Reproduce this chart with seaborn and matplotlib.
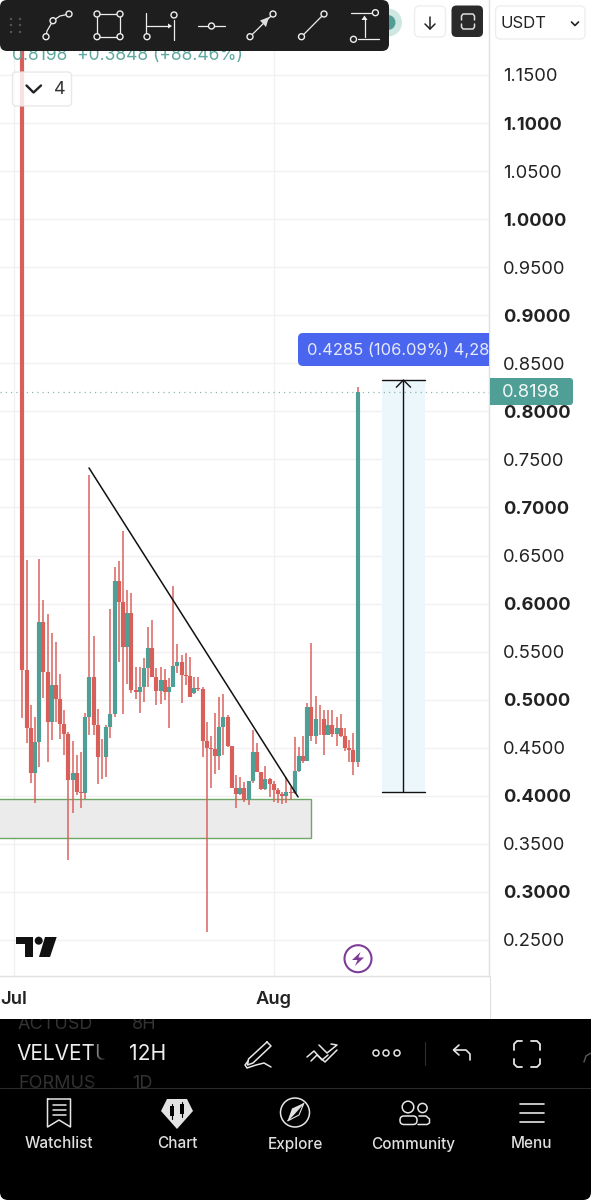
import matplotlib
matplotlib.use("Agg")
import matplotlib.pyplot as plt
import numpy as np
import pandas as pd
import seaborn as sns
from matplotlib.patches import Circle, FancyBboxPatch, Polygon, Rectangle

# candle values, 12H bars, first one is bar 2 (Jul 2nd)
first_bar = 2
opens = [1.2000, 0.5309, 0.4709, 0.4234, 0.4563, 0.5805, 0.5292, 0.4771, 0.5153, 0.5007, 0.4747,
         0.4640, 0.4165, 0.4234, 0.4036, 0.4026, 0.4823, 0.5233, 0.4737, 0.4407, 0.4400, 0.4712,
         0.4851, 0.6235, 0.6020, 0.5545, 0.5899, 0.5101, 0.5077, 0.5136, 0.5333, 0.5534, 0.5240,
         0.5094, 0.5205, 0.5084, 0.5136, 0.5351, 0.5392, 0.5257, 0.5250, 0.5073, 0.5125, 0.5108,
         0.4573, 0.4494, 0.4487, 0.4414, 0.4719, 0.4816, 0.4518, 0.4077, 0.4019, 0.4077, 0.3956,
         0.4157, 0.4452, 0.4251, 0.4067, 0.4171, 0.4123, 0.4060, 0.4019, 0.4000, 0.4036, 0.4026,
         0.4258, 0.4414, 0.4365, 0.4920, 0.4626, 0.4795, 0.4802, 0.4632, 0.4737, 0.4643, 0.4702,
         0.4622, 0.4494, 0.4476, 0.4355]
closes = [0.5309, 0.4709, 0.4234, 0.4563, 0.5805, 0.5292, 0.4771, 0.5153, 0.5007, 0.4747, 0.4640,
          0.4165, 0.4234, 0.4036, 0.4026, 0.4823, 0.5233, 0.4737, 0.4407, 0.4400, 0.4712, 0.4851,
          0.6235, 0.6020, 0.5545, 0.5899, 0.5101, 0.5077, 0.5136, 0.5333, 0.5534, 0.5240, 0.5094,
          0.5205, 0.5084, 0.5136, 0.5351, 0.5392, 0.5257, 0.5250, 0.5031, 0.5125, 0.5111, 0.4573,
          0.4494, 0.4487, 0.4414, 0.4719, 0.4816, 0.4518, 0.4077, 0.4019, 0.4077, 0.3956, 0.4157,
          0.4452, 0.4251, 0.4067, 0.4171, 0.4123, 0.4060, 0.4019, 0.4000, 0.4036, 0.4026, 0.4258,
          0.4414, 0.4365, 0.4920, 0.4626, 0.4795, 0.4802, 0.4632, 0.4737, 0.4643, 0.4702, 0.4622,
          0.4494, 0.4476, 0.4355, 0.8198]
highs = [1.2100, 0.6454, 0.4945, 0.4823, 0.6461, 0.6037, 0.5888, 0.5691, 0.5604, 0.5264, 0.4893,
         0.4660, 0.4574, 0.4425, 0.4453, 0.4858, 0.7338, 0.5663, 0.4900, 0.4588, 0.4737, 0.5944,
         0.6384, 0.6443, 0.6759, 0.6141, 0.6107, 0.5344, 0.5344, 0.5430, 0.5760, 0.5829, 0.5326,
         0.5337, 0.5316, 0.5222, 0.6183, 0.5576, 0.5465, 0.5483, 0.5447, 0.5232, 0.5232, 0.5135,
         0.4771, 0.4626, 0.4865, 0.5024, 0.5059, 0.4840, 0.4518, 0.4216, 0.4192, 0.4147, 0.4157,
         0.4684, 0.4553, 0.4251, 0.4313, 0.4188, 0.4157, 0.4077, 0.4040, 0.4199, 0.4095, 0.4615,
         0.4504, 0.4626, 0.4969, 0.5586, 0.5042, 0.4945, 0.4893, 0.4893, 0.4893, 0.4823, 0.4847,
         0.4702, 0.4580, 0.4657, 0.8250]
lows = [0.4806, 0.4546, 0.4130, 0.3922, 0.4303, 0.5014, 0.4355, 0.4581, 0.4771, 0.4588, 0.4425,
        0.3332, 0.3818, 0.4009, 0.3870, 0.3963, 0.4633, 0.4633, 0.4120, 0.4175, 0.4192, 0.4605,
        0.4823, 0.5389, 0.4851, 0.5163, 0.5066, 0.5007, 0.4865, 0.4973, 0.5136, 0.5240, 0.4945,
        0.4955, 0.5000, 0.4709, 0.5136, 0.5274, 0.4962, 0.5153, 0.5024, 0.5060, 0.5094, 0.4407,
        0.2583, 0.4077, 0.4227, 0.4268, 0.4424, 0.4510, 0.4077, 0.3876, 0.4010, 0.3939, 0.3904,
        0.4129, 0.4251, 0.4060, 0.4060, 0.3990, 0.3939, 0.3928, 0.3911, 0.3921, 0.3956, 0.4020,
        0.4250, 0.4338, 0.4360, 0.4573, 0.4539, 0.4632, 0.4424, 0.4632, 0.4615, 0.4518, 0.4615,
        0.4466, 0.4355, 0.4216, 0.4296]

price_ticks = [1.15, 1.10, 1.05, 1.00, 0.95, 0.90, 0.85, 0.80, 0.75, 0.70, 0.65, 0.60, 0.55, 0.50,
               0.45, 0.40, 0.35, 0.30, 0.25]
date_ticks = [0, 62]
date_labels = ["Jul", "Aug"]
last_price = 0.8198
trend_bars = [17.9, 67.8]
trend_prices = [0.7411, 0.3988]
zone_bars = [-6.0, 71.0]
zone_prices = [0.3561, 0.3967]
measure_bars = [87.8, 98.1]
measure_prices = [0.4039, 0.8326]

RED = "#d9605a"
GREEN = "#509f97"
GRID = "#f1f1f1"
BORDER = "#e0e0e0"

sns.set_theme(style="white")
plt.rcParams["font.family"] = ["Inter", "DejaVu Sans"]

fig = plt.figure(figsize=(5.91, 12), dpi=100, facecolor="white")
ax = fig.add_axes([0, 1 - 976 / 1200, 489 / 591, 976 / 1200], zorder=1)
ax.set_xlim(-3.34, 113.37)
ax.set_ylim(1.228 - 0.0010405 * 976, 1.228)

# candles as two long tables so seaborn draws them
bars = np.arange(len(opens)) + first_bar
cnd = pd.DataFrame({"bar": bars, "o": opens, "c": closes, "h": highs, "l": lows})
cnd["side"] = np.where(cnd["c"] >= cnd["o"], "up", "down")
wicks = cnd.melt(id_vars=["bar", "side"], value_vars=["l", "h"], value_name="price")
bodies = cnd.melt(id_vars=["bar", "side"], value_vars=["o", "c"], value_name="price")
pal = {"up": GREEN, "down": RED}

for p in price_ticks:
    ax.axhline(p, color=GRID, lw=1, zorder=0)
for d in date_ticks:
    ax.axvline(d, color=GRID, lw=1, zorder=0)

ax.add_patch(Rectangle((zone_bars[0], zone_prices[0]), zone_bars[1] - zone_bars[0],
                       zone_prices[1] - zone_prices[0], fc="#ebebeb", ec="#6fa866", lw=1, zorder=1))
ax.add_patch(Rectangle((measure_bars[0], measure_prices[0]), measure_bars[1] - measure_bars[0],
                       measure_prices[1] - measure_prices[0], fc="#ebf7fa", ec="none", zorder=1))

# every wick is red in this chart, also on the green candles
sns.lineplot(data=wicks, x="bar", y="price", color=RED, units="bar", estimator=None,
             sort=False, legend=False, linewidth=1.2, alpha=0.9, solid_capstyle="butt", zorder=2, ax=ax)
sns.lineplot(data=bodies, x="bar", y="price", hue="side", palette=pal, units="bar", estimator=None,
             sort=False, legend=False, linewidth=3.0, solid_capstyle="butt", zorder=3, ax=ax)

trend = pd.DataFrame({"bar": trend_bars, "price": trend_prices})
sns.lineplot(data=trend, x="bar", y="price", color="#111111", linewidth=1.1, zorder=4, ax=ax)

ax.axhline(last_price, color="#8fb5b0", lw=0.9, ls=(0, (1, 3.2)), zorder=1.5)
mid = sum(measure_bars) / 2
ax.plot(measure_bars, [measure_prices[0]] * 2, color="#111111", lw=1, zorder=4)
ax.plot(measure_bars, [measure_prices[1]] * 2, color="#111111", lw=1, zorder=4)
ax.plot([mid, mid], measure_prices, color="#111111", lw=1, zorder=4)
ax.plot([mid - 1.7, mid, mid + 1.7], [measure_prices[1] - 0.0075, measure_prices[1], measure_prices[1] - 0.0075],
        color="#111111", lw=1, zorder=4)

ax.set_xlabel("")
ax.set_ylabel("")
ax.yaxis.tick_right()
ax.set_yticks(price_ticks)
ax.set_yticklabels([f"{p:.4f}" for p in price_ticks])
ax.set_xticks(date_ticks)
ax.set_xticklabels(date_labels, fontsize=13.2, color="#222222", fontweight="semibold")
ax.tick_params(axis="y", length=0, pad=10, labelsize=13.2, labelcolor="#222222")
ax.tick_params(axis="x", length=0, pad=10.5)
for lab, p in zip(ax.get_yticklabels(), price_ticks):
    if round(p * 100) % 10 == 0:
        lab.set_fontweight("bold")
for side in ["top", "left"]:
    ax.spines[side].set_visible(False)
for side in ["right", "bottom"]:
    ax.spines[side].set_color(BORDER)
    ax.spines[side].set_linewidth(1)

# phone UI on top, in pixel coordinates
ui = fig.add_axes([0, 0, 1, 1], zorder=2)
ui.set_xlim(0, 591)
ui.set_ylim(1200, 0)
ui.axis("off")
ui.patch.set_alpha(0)


def box(x0, y0, x1, y1, r, fc, ec="none", lw=1, alpha=None, z=5):
    p = FancyBboxPatch((x0 + r, y0 + r), x1 - x0 - 2 * r, y1 - y0 - 2 * r,
                       boxstyle=f"round,pad={r},rounding_size={r}", fc=fc, ec=ec, lw=lw, alpha=alpha, zorder=z)
    ui.add_patch(p)
    return p


def line(xs, ys, c="#eeeeee", lw=1.0, z=7):
    ui.plot(xs, ys, color=c, lw=lw, zorder=z, solid_capstyle="round", solid_joinstyle="round")


def dot(x, y, r=3.0, ec="#eeeeee", fc="#1e1e1e", lw=1.0, z=8):
    ui.add_patch(Circle((x, y), r, fc=fc, ec=ec, lw=lw, zorder=z))


def clip_rect(x0, y0, x1, y1):
    return Rectangle((x0, y0), x1 - x0, y1 - y0, transform=ui.transData)


def txt(x, y, s, size, c="#222222", ha="left", weight="normal", z=7, clip=None):
    t = ui.text(x, y, s, fontsize=size, color=c, ha=ha, va="center", fontweight=weight, zorder=z)
    if clip:
        t.set_clip_on(True)
        t.set_clip_path(clip_rect(*clip))
    return t


def fade(x0, x1, y0, y1, z=7.5):
    # text runs out into the black panel
    for i, x in enumerate(np.arange(x0, x1, 1.5)):
        ui.add_patch(Rectangle((x, y0), 1.5, y1 - y0, fc="black", ec="none", alpha=min(1, (i + 1) * 1.5 / (x1 - x0)), zorder=z))


# last price tag and x panel border
tag = box(484, 378, 573, 405, 3, GREEN, z=5)
tag.set_clip_path(clip_rect(490, 370, 591, 410))
txt(502, 392.5, "0.8198", 13.2, c="#f2f7f6")
line([489.5, 489.5], [976, 1019], c=BORDER, lw=0.8, z=3)

# measure label
pill = box(298, 333, 520, 366, 5, "#4a66ee", z=5)
pill.set_clip_path(clip_rect(290, 325, 489, 372))
txt(307, 350, "0.4285 (106.09%) 4,285", 11.9, c="#e6e9fb", z=6, clip=(298, 333, 489, 366))

# legend header
txt(11.5, 55, "0.8198  +0.3848 (+88.46%)", 12.55, c="#5fa89f", z=4)
box(12.5, 72, 71.5, 106, 4, "white", ec="#e4e4e4", lw=1, alpha=0.82, z=4)
line([26.5, 33.5, 41], [85.5, 92.5, 85.5], c="#222222", lw=1.7)
txt(54, 89.5, "4", 13, c="#333333")

# logo
ui.add_patch(Polygon([(16, 937), (32.7, 937), (32.7, 957), (25, 957), (25, 944), (16, 944)], fc="#111111", ec="none", zorder=5))
ui.add_patch(Circle((38.7, 940.7), 4, fc="#111111", ec="none", zorder=5))
ui.add_patch(Polygon([(45, 937), (56.7, 937), (50, 957), (39, 957)], fc="#111111", ec="none", zorder=5))

# lightning
ui.add_patch(Circle((358, 958.7), 13.5, fc="white", ec="#7d3c98", lw=1.5, zorder=5))
ui.add_patch(Polygon([(360.5, 952), (352, 960), (357.5, 960), (355, 966), (364, 957.5), (358.5, 957.5)], fc="#7d3c98", ec="none", zorder=6))

# top right buttons
ui.add_patch(Circle((388, 22.5), 14, fc="#cfe7e3", ec="none", zorder=4))
ui.add_patch(Circle((388, 22.5), 7.5, fc=GREEN, ec="none", zorder=4.5))
box(414.5, 6, 445.5, 37, 5, "white", ec="#eeeeee")
line([430, 430], [16.5, 29], c="#222222", lw=1.1)
line([425, 430, 435], [24, 29, 24], c="#222222", lw=1.1)
box(451.5, 5.5, 483, 37, 5, "#2a2a2a")
ui.plot([461.5, 461.5, 463, 473, 474.5, 474.5], [20, 16, 14, 14, 16, 20], color="#dddddd", lw=1.1, zorder=7)
ui.plot([461.5, 461.5, 463, 473, 474.5, 474.5], [24, 27, 29, 29, 27, 24], color="#dddddd", lw=1.1, zorder=7)
box(495.5, 6, 585, 39, 5, "white", ec="#eeeeee")
txt(500.5, 23, "USDT", 12)
line([571.5, 575, 578.5], [22, 25.5, 22], c="#222222", lw=1.2)

# drawing toolbar
box(0, 0, 389, 51, 7, "#1e1e1e", z=6)
for gx in [11, 20]:
    for gy in [19, 25, 32]:
        ui.add_patch(Circle((gx, gy), 1.2, fc="#555555", ec="none", zorder=7))
ui.plot([46, 47, 53, 60, 69], [36.7, 31, 20.7, 16, 14], color="#eeeeee", lw=0.9, zorder=7)
for x, y in [(46, 36.7), (53, 20.7), (69, 14)]:
    dot(x, y)
line([97, 120, 120, 97, 97], [14, 14, 36.7, 36.7, 14], lw=0.9)
for x, y in [(97, 14), (120, 14), (97, 36.7), (120, 36.7)]:
    dot(x, y)
line([146, 146], [13, 33], lw=0.9)
line([174, 174], [20, 40], lw=0.9)
line([147, 170], [26, 26], lw=0.9)
ui.add_patch(Polygon([(168, 23.5), (172, 26), (168, 28.5)], fc="#eeeeee", ec="none", zorder=7))
dot(147, 36.7)
dot(174, 15)
line([198, 225], [26, 26], lw=0.9)
dot(211.5, 26)
line([250, 273], [36.7, 14], lw=0.9)
ui.add_patch(Polygon([(269, 17), (260, 20.5), (266, 27)], fc="#dddddd", ec="none", zorder=7))
dot(250, 36.7)
dot(273, 14)
line([301.5, 324], [36.7, 14], lw=0.9)
dot(301.5, 36.7)
dot(324, 14)
line([350.5, 371], [12.7, 12.7], lw=0.9)
line([358, 379], [39.3, 39.3], lw=0.9)
line([364.5, 364.5], [37, 18], lw=0.9)
ui.add_patch(Polygon([(361.5, 20), (364.5, 15.5), (367.5, 20)], fc="#eeeeee", ec="none", zorder=7))
dot(375.4, 12.7)
dot(353.5, 39.3)

# bottom black panel
box(0, 1019, 591, 1200, 8, "black", z=5)
ui.add_patch(Rectangle((0, 1019), 591, 20, fc="black", ec="none", zorder=5))
line([0, 591], [1088, 1088], c="#2a2a2a", lw=0.8, z=6)
for tx, ty, s in [(18, 1024.5, "ACTUSD"), (132, 1024.5, "8H"), (18, 1083, "FORMUS"), (132, 1083, "1D")]:
    txt(tx, ty, s, 13, c="#333333", clip=(0, 1019, 105 if tx < 100 else 591, 1088))
txt(16, 1054, "VELVETU", 15, c="#eeeeee", clip=(0, 1030, 106, 1080))
fade(90, 106, 1019, 1088)
txt(129, 1054, "12H", 15.2, c="#eeeeee")

W = "#e6e6e6"
# pencil
line([267, 271, 253, 247.5, 248.5, 267], [1042, 1046, 1063, 1065, 1059, 1042], c=W, lw=1.1)
ui.plot([248, 245, 247, 256, 264, 271], [1061, 1065, 1068, 1065, 1063, 1067], color=W, lw=1.1, zorder=7)
# double chevron
line([307, 314, 322, 328], [1057, 1051, 1060, 1055], c=W, lw=1.1)
line([311, 317, 325, 337], [1061, 1055, 1062, 1050], c=W, lw=1.1)
line([319, 327, 337, 331], [1045, 1053, 1045, 1044], c=W, lw=1.1)
for x in [376, 386, 397]:
    ui.add_patch(Circle((x, 1053), 3, fc="black", ec=W, lw=1.1, zorder=7))
line([425, 425], [1042, 1065], c="#2e2e2e", lw=0.8)
# undo
ui.plot([470, 470, 466, 454], [1060, 1054, 1050, 1050], color=W, lw=1.2, zorder=7)
ui.plot([459, 453.5, 459], [1045, 1050, 1055], color=W, lw=1.2, zorder=7)
# fullscreen
for xs, ys in [([514, 514, 517, 522], [1050, 1044, 1041, 1041]), ([531, 537, 540, 540], [1041, 1041, 1044, 1050]),
               ([514, 514, 517, 522], [1059, 1064, 1067, 1067]), ([531, 537, 540, 540], [1067, 1067, 1064, 1059])]:
    ui.plot(xs, ys, color=W, lw=1.3, zorder=7)
ui.plot([584, 586, 591], [1062, 1056, 1053], color="#555555", lw=1.1, zorder=7)

# nav icons
line([47.5, 70.5, 70.5, 59, 47.5, 47.5], [1099, 1099, 1127, 1120, 1127, 1099], c=W, lw=1.1)
for y in [1105, 1110, 1115]:
    line([52.5, 66], [y, y], c=W, lw=1.1)
ui.add_patch(Polygon([(167, 1099), (187, 1099), (193, 1111), (177, 1129), (161, 1111)], fc="#e3e3e3", ec="none", zorder=7))
for x, y0, y1 in [(171.5, 1106, 1116), (182, 1104, 1114)]:
    ui.add_patch(Rectangle((x - 2, y0), 4, y1 - y0, fc="black", ec="none", zorder=8))
    line([x, x], [y0 - 2.5, y1 + 2.5], c="black", lw=0.8, z=8)
ui.add_patch(Circle((295, 1112.5), 14.5, fc="black", ec=W, lw=1.1, zorder=7))
ui.add_patch(Polygon([(287.5, 1121), (292, 1108.5), (304, 1103)], fc="#e3e3e3", ec="none", zorder=8))
ui.add_patch(Polygon([(287.5, 1121), (299, 1115), (304, 1103)], fc="black", ec=W, lw=0.8, zorder=8))
ui.add_patch(Circle((408, 1107), 5.8, fc="black", ec=W, lw=1.1, zorder=7))
ui.add_patch(Circle((422.5, 1108), 4.6, fc="black", ec=W, lw=1.1, zorder=7))
box(400, 1116, 417, 1124.5, 4, "black", ec=W, lw=1.1, z=7)
ui.plot([419, 426, 429.5, 429.5, 427, 418], [1116, 1116, 1119, 1123, 1124.5, 1124.5], color=W, lw=1.1, zorder=7)
for y in [1104, 1113, 1122]:
    line([520, 543.5], [y, y], c=W, lw=1.2)

for x, s in zip([58.5, 177, 295, 413.5, 531], ["Watchlist", "Chart", "Explore", "Community", "Menu"]):
    txt(x, 1144, s, 11, c="#e0e0e0", ha="center", weight="medium")

fig.savefig("out.png", dpi=100, facecolor="white")
